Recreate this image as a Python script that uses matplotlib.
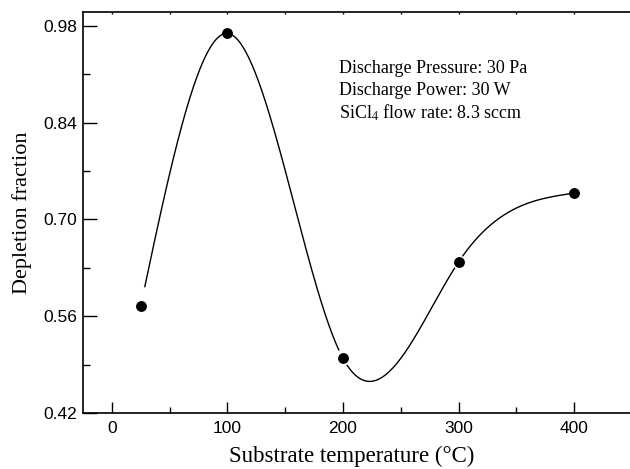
import numpy as np
import matplotlib.pyplot as plt
from matplotlib.ticker import MultipleLocator

# Data
temperature = [25, 100, 200, 300, 400]
depletion = [0.575, 0.969, 0.499, 0.6385, 0.738]

x_ticks = [0, 100, 200, 300, 400]
y_ticks = [0.42, 0.56, 0.70, 0.84, 0.98]
notes = ["Discharge Pressure: 30 Pa",
         "Discharge Power: 30 W",
         r"SiCl$_4$ flow rate: 8.3 sccm"]


def natural_spline(x, y, xs):
    """Natural cubic spline through (x, y), evaluated at xs."""
    x = np.asarray(x, float)
    y = np.asarray(y, float)
    n = len(x)
    h = np.diff(x)
    A = np.zeros((n, n))
    b = np.zeros(n)
    A[0, 0] = A[-1, -1] = 1.0
    for i in range(1, n - 1):
        A[i, i - 1] = h[i - 1]
        A[i, i] = 2 * (h[i - 1] + h[i])
        A[i, i + 1] = h[i]
        b[i] = 6 * ((y[i + 1] - y[i]) / h[i] - (y[i] - y[i - 1]) / h[i - 1])
    M = np.linalg.solve(A, b)
    idx = np.clip(np.searchsorted(x, xs) - 1, 0, n - 2)
    x0, x1 = x[idx], x[idx + 1]
    hi = h[idx]
    t0 = x1 - xs
    t1 = xs - x0
    return (M[idx] * t0**3 / (6 * hi) + M[idx + 1] * t1**3 / (6 * hi)
            + (y[idx] / hi - M[idx] * hi / 6) * t0
            + (y[idx + 1] / hi - M[idx + 1] * hi / 6) * t1)


fig = plt.figure(figsize=(6.3, 4.69), dpi=100)
ax = fig.add_axes([0.1317, 0.1194, 0.8714, 0.855])

xs = np.linspace(temperature[0], temperature[-1], 1500)
ys = natural_spline(temperature, depletion, xs)
# Origin-style gap: the curve stops a little before each symbol
for t in temperature:
    ys[np.abs(xs - t) < 3.5] = np.nan
ax.plot(xs, ys, color="black", lw=1.0, zorder=2)
ax.plot(temperature, depletion, "o", ms=6.8, color="black", zorder=4)

ax.set_xlim(-25, 450)
ax.set_ylim(0.42, 1.0)
ax.set_xticks(x_ticks)
ax.set_yticks(y_ticks)
ax.set_yticklabels([f"{v:.2f}" for v in y_ticks])
ax.xaxis.set_minor_locator(MultipleLocator(50))
ax.yaxis.set_minor_locator(MultipleLocator(0.07))

for lab in ax.get_xticklabels() + ax.get_yticklabels():
    lab.set_fontfamily("Liberation Sans")
    lab.set_fontsize(12.5)

ax.tick_params(axis="x", which="major", direction="in", length=8, width=1, top=True, pad=6)
ax.tick_params(axis="x", which="minor", direction="in", length=4, width=1, top=True)
ax.tick_params(axis="y", which="major", direction="in", length=10, width=1, pad=4)
ax.tick_params(axis="y", which="minor", direction="in", length=5, width=1)
for t in ax.xaxis.get_major_ticks() + ax.xaxis.get_minor_ticks():
    t.tick2line.set_markersize(1.5)

ax.spines["right"].set_visible(False)
for s in ["left", "bottom", "top"]:
    ax.spines[s].set_linewidth(1.2)

ax.set_xlabel("Substrate temperature (°C)", family="Liberation Serif", fontsize=16.5)
ax.xaxis.set_label_coords(0.49, -0.083)
ax.set_ylabel("Depletion fraction", family="Liberation Serif", fontsize=16, labelpad=8)

for i, line in enumerate(notes):
    ax.text(0.466, 0.86 - i * 0.056, line, transform=ax.transAxes,
            family="Liberation Serif", fontsize=13, va="center", ha="left",
            math_fontfamily="stix")

fig.savefig("out.png", dpi=100)
